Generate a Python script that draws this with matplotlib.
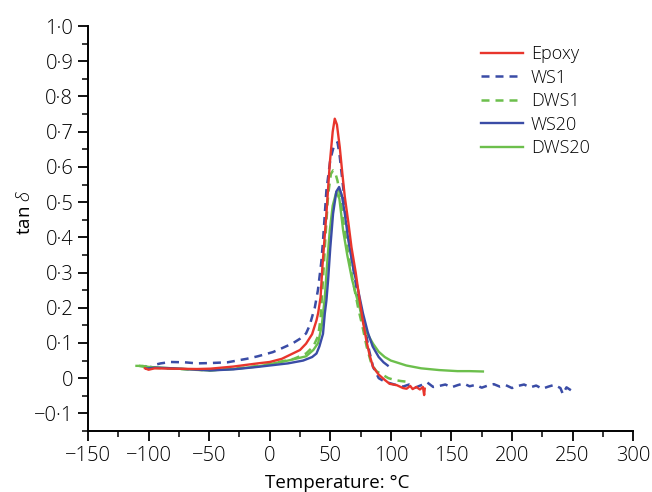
import matplotlib.pyplot as plt
from matplotlib.ticker import MultipleLocator, FuncFormatter

plt.rcParams['font.family'] = ['Open Sans', 'DejaVu Sans']
plt.rcParams['font.weight'] = 'light'
plt.rcParams['mathtext.fontset'] = 'custom'
plt.rcParams['mathtext.it'] = 'Open Sans:italic'

# Dati (temperatura in °C, tan delta)
epoxy_t = [-103, -100, -95, -80, -60, -49, -30, -10, 0, 10, 19, 25, 30, 35, 38.6, 40, 42, 43.5,
           46.8, 49.6, 52, 53.7, 55.5, 57.8, 60, 62, 65, 67.5, 71, 74.3, 77, 79.8, 82.5, 85.3,
           90, 95, 99, 105, 110, 113, 116, 118, 121, 124, 126.5, 127.5, 128]
epoxy_y = [0.028, 0.024, 0.028, 0.027, 0.026, 0.027, 0.033, 0.042, 0.046, 0.055, 0.07, 0.08, 0.098,
           0.125, 0.164, 0.185, 0.23, 0.316, 0.467, 0.61, 0.7, 0.737, 0.72, 0.657, 0.58, 0.515,
           0.44, 0.372, 0.3, 0.22, 0.16, 0.107, 0.065, 0.032, 0.01, -0.005, -0.016, -0.02,
           -0.028, -0.03, -0.022, -0.031, -0.025, -0.032, -0.025, -0.048, -0.03]

ws1_t = [-103, -100, -95, -90, -82, -70, -60, -49, -35, -19, -10, 2.6, 10, 19, 25, 30, 33, 35.8,
         37.2, 39.8, 42.6, 44, 46.8, 50, 53, 56, 57.8, 60.6, 63, 66, 70, 74, 78.5, 82, 85.3, 90,
         95, 100, 105, 110, 115, 120, 125, 130, 135, 140, 145, 150, 155, 160, 165, 170, 175,
         180, 185, 190, 195, 200, 205, 210, 215, 220, 225, 230, 235, 240, 242, 245, 249]
ws1_y = [0.035, 0.028, 0.038, 0.042, 0.046, 0.045, 0.042, 0.043, 0.045, 0.055, 0.062, 0.074,
         0.085, 0.099, 0.112, 0.127, 0.15, 0.184, 0.2, 0.25, 0.33, 0.39, 0.533, 0.62, 0.66, 0.67,
         0.63, 0.543, 0.46, 0.38, 0.29, 0.21, 0.145, 0.08, 0.032, 0.0, -0.01, -0.015, -0.02,
         -0.024, -0.018, -0.027, -0.02, -0.012, -0.025, -0.022, -0.018, -0.026, -0.02, -0.015,
         -0.023, -0.019, -0.027, -0.021, -0.017, -0.024, -0.02, -0.028, -0.022, -0.018, -0.026,
         -0.021, -0.03, -0.024, -0.019, -0.028, -0.045, -0.026, -0.035]

dws1_t = [-108, -100, -80, -50, -20, 0, 20, 30, 36, 40, 42, 44, 46, 48.2, 50.5, 52.3, 54, 56,
          58, 61, 65, 69, 73, 77, 80, 84, 88, 93, 98, 103, 108, 113, 117]
dws1_y = [0.035, 0.03, 0.027, 0.022, 0.03, 0.04, 0.055, 0.07, 0.09, 0.12, 0.17, 0.28, 0.4, 0.52,
          0.58, 0.59, 0.585, 0.56, 0.52, 0.44, 0.35, 0.27, 0.2, 0.14, 0.09, 0.04, 0.02, 0.01,
          0.0, -0.005, -0.008, -0.01, -0.01]

ws20_t = [-102, -95, -80, -60, -49, -30, -10, 0, 15, 27.6, 35, 38.6, 41, 44, 45.5, 46.8, 48.2,
          50, 52.3, 55, 57.3, 59.5, 62, 65, 68.8, 73, 77, 81, 85, 90, 94, 97.4]
ws20_y = [0.027, 0.03, 0.028, 0.024, 0.022, 0.025, 0.032, 0.036, 0.042, 0.05, 0.06, 0.07, 0.09,
          0.126, 0.184, 0.22, 0.278, 0.37, 0.467, 0.53, 0.543, 0.52, 0.467, 0.39, 0.316, 0.25,
          0.184, 0.13, 0.09, 0.06, 0.045, 0.036]

dws20_t = [-110, -105, -100, -90, -70, -50, -30, -10, 0, 15, 30, 36, 40, 43, 45.5, 47.5, 49.6,
           52, 55, 57.5, 60.6, 64, 68, 71, 74.3, 77, 80, 85.3, 90, 95, 100, 112.8, 125, 140,
           155, 165, 176]
dws20_y = [0.035, 0.035, 0.032, 0.03, 0.026, 0.022, 0.026, 0.033, 0.04, 0.05, 0.062, 0.08, 0.1,
           0.15, 0.23, 0.33, 0.42, 0.49, 0.529, 0.51, 0.42, 0.35, 0.28, 0.24, 0.2, 0.16, 0.13,
           0.098, 0.075, 0.06, 0.05, 0.036, 0.028, 0.023, 0.02, 0.02, 0.019]

rosso = '#e8352c'
blu = '#3a4ca6'
verde = '#6cbf4c'
tratteggio = (0, (3.2, 2.4))

fig = plt.figure(figsize=(6.52, 4.92), dpi=100)
ax = fig.add_axes([0.135, 0.124, 0.836, 0.823])

ax.plot(epoxy_t, epoxy_y, color=rosso, lw=1.7, label='Epoxy', zorder=5)
ax.plot(ws1_t, ws1_y, color=blu, lw=1.8, ls=tratteggio, label='WS1', zorder=3)
ax.plot(dws1_t, dws1_y, color=verde, lw=1.8, ls=tratteggio, label='DWS1', zorder=2)
ax.plot(ws20_t, ws20_y, color=blu, lw=1.7, label='WS20', zorder=4)
ax.plot(dws20_t, dws20_y, color=verde, lw=1.7, label='DWS20', zorder=3)

ax.set_xlim(-150, 300)
ax.set_ylim(-0.15, 1.0)
ax.xaxis.set_major_locator(MultipleLocator(50))
ax.xaxis.set_minor_locator(MultipleLocator(25))
ax.yaxis.set_major_locator(MultipleLocator(0.1))
ax.yaxis.set_minor_locator(MultipleLocator(0.05))


def fmt_x(v, pos):
    return f'{v:.0f}'.replace('-', '\u2212')


def fmt_y(v, pos):
    if abs(v) < 1e-9:
        return '0'
    return f'{v:.1f}'.replace('.', '\u00b7').replace('-', '\u2212')


ax.xaxis.set_major_formatter(FuncFormatter(fmt_x))
ax.yaxis.set_major_formatter(FuncFormatter(fmt_y))

for s in ['top', 'right']:
    ax.spines[s].set_visible(False)
for s in ['left', 'bottom']:
    ax.spines[s].set_linewidth(1.4)
ax.tick_params(which='major', direction='out', length=7, width=1.3, labelsize=14.5, pad=3.6)
ax.tick_params(which='minor', direction='out', length=4.3, width=1.1)

ax.set_xlabel('Temperature: °C', fontsize=13.5)
ax.xaxis.set_label_coords((337 - 88) / 545, -0.105)
ax.set_ylabel('tan $\\mathit{\\delta}$', fontsize=13.5)
ax.yaxis.set_label_coords(-0.10, 0.54)

ax.legend(loc='upper left', bbox_to_anchor=(0.738, 0.908), bbox_transform=fig.transFigure,
          frameon=False, fontsize=13, handlelength=2.3, handletextpad=0.45,
          labelspacing=0.3, borderpad=0, borderaxespad=0)

fig.savefig('out.png', dpi=100)
